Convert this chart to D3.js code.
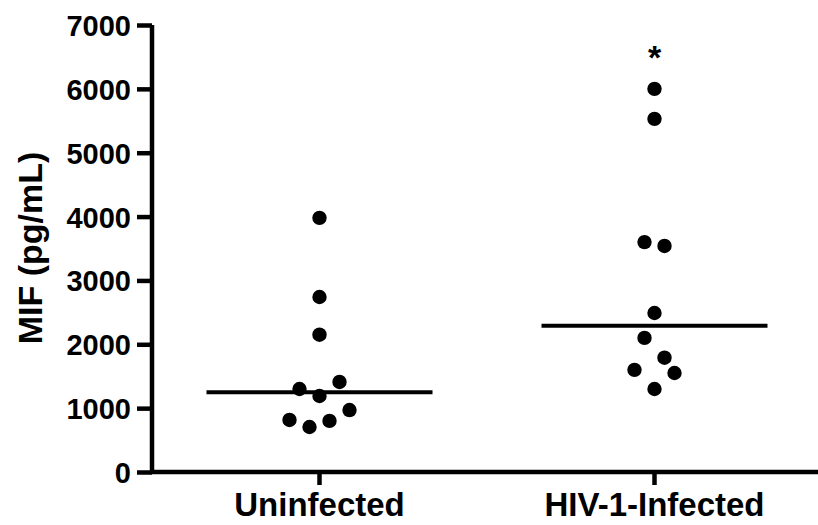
<!DOCTYPE html>
<html>
<head>
<meta charset="utf-8">
<script src="https://cdn.jsdelivr.net/npm/d3@7"></script>
<style>
  html, body { margin: 0; padding: 0; background: #fff; }
  svg { display: block; }
  text { font-family: "Liberation Sans", Arial, sans-serif; font-weight: bold; fill: #000; }
</style>
</head>
<body>
<svg id="chart" width="818" height="525"></svg>
<script>
// ---- data ----
const categories = ["Uninfected", "HIV-1-Infected"];
const uninfectedValues = [3980, 2740, 2150, 1300, 1410, 1190, 970, 815, 705, 800];
const uninfectedJitter = [0, 0, 0, -2, 2, 0, 3, -3, -1, 1];
const hivValues = [6000, 5530, 3600, 3540, 2490, 2100, 1790, 1600, 1550, 1300];
const hivJitter = [0, 0, -1, 1, 0, -1, 1, -2, 2, 0];
const medians = [1250, 2290];
const yTicks = [0, 1000, 2000, 3000, 4000, 5000, 6000, 7000];
const yLabel = "MIF (pg/mL)";
const significance = ["", "*"];

const series = [
  { cat: categories[0], values: uninfectedValues, jitter: uninfectedJitter },
  { cat: categories[1], values: hivValues, jitter: hivJitter }
];

// ---- layout ----
const svg = d3.select("#chart");
const mLeft = 152, mRight = 822, mTop = 25, mBottom = 472;
const jitterStep = 10;

const x = d3.scaleBand().domain(categories).range([mLeft, mRight]).padding(0);
const y = d3.scaleLinear().domain([0, 7000]).range([mBottom, mTop]);
const cx = c => x(c) + x.bandwidth() / 2;

// y axis
const yAxis = svg.append("g")
  .attr("transform", `translate(${mLeft},0)`)
  .call(d3.axisLeft(y).tickValues(yTicks).tickSize(15).tickPadding(6).tickFormat(d3.format("d")));
yAxis.select(".domain").attr("stroke", "#000").attr("stroke-width", 4.5).attr("d", `M0,${mTop}V${mBottom}`);
yAxis.selectAll(".tick line").attr("stroke", "#000").attr("stroke-width", 4.5);
yAxis.selectAll(".tick text")
  .style("font-size", "29px").attr("dy", "0.36em");

// x axis
const xAxis = svg.append("g")
  .attr("transform", `translate(0,${mBottom})`)
  .call(d3.axisBottom(x).tickSize(13).tickPadding(8).tickSizeOuter(0));
xAxis.select(".domain").attr("stroke", "#000").attr("stroke-width", 4.5)
  .attr("d", `M${mLeft - 2},0H${818}`);
xAxis.selectAll(".tick line").attr("stroke", "#000").attr("stroke-width", 4.5);
xAxis.selectAll(".tick text").style("font-size", "33px").attr("dy", "0.71em");

// y label
svg.append("text")
  .attr("transform", `translate(42,248) rotate(-90)`)
  .attr("text-anchor", "middle")
  .style("font-size", "34px")
  .text(yLabel);

// median lines
const medLen = 226;
svg.append("g").selectAll("line")
  .data(categories)
  .join("line")
  .attr("x1", (c) => cx(c) - medLen / 2)
  .attr("x2", (c) => cx(c) + medLen / 2)
  .attr("y1", (c, i) => y(medians[i]))
  .attr("y2", (c, i) => y(medians[i]))
  .attr("stroke", "#000")
  .attr("stroke-width", 4);

// points
const pts = series.flatMap(s => s.values.map((v, i) => ({ cat: s.cat, v, j: s.jitter[i] })));
svg.append("g").selectAll("circle")
  .data(pts)
  .join("circle")
  .attr("cx", d => cx(d.cat) + d.j * jitterStep)
  .attr("cy", d => y(d.v))
  .attr("r", 7.2)
  .attr("fill", "#000");

// significance marker
svg.append("g").selectAll("text")
  .data(categories)
  .join("text")
  .attr("x", c => cx(c))
  .attr("y", (c, i) => y(d3.max(series[i].values)) - 20)
  .attr("text-anchor", "middle")
  .style("font-size", "34px")
  .text((c, i) => significance[i]);
</script>
</body>
</html>
